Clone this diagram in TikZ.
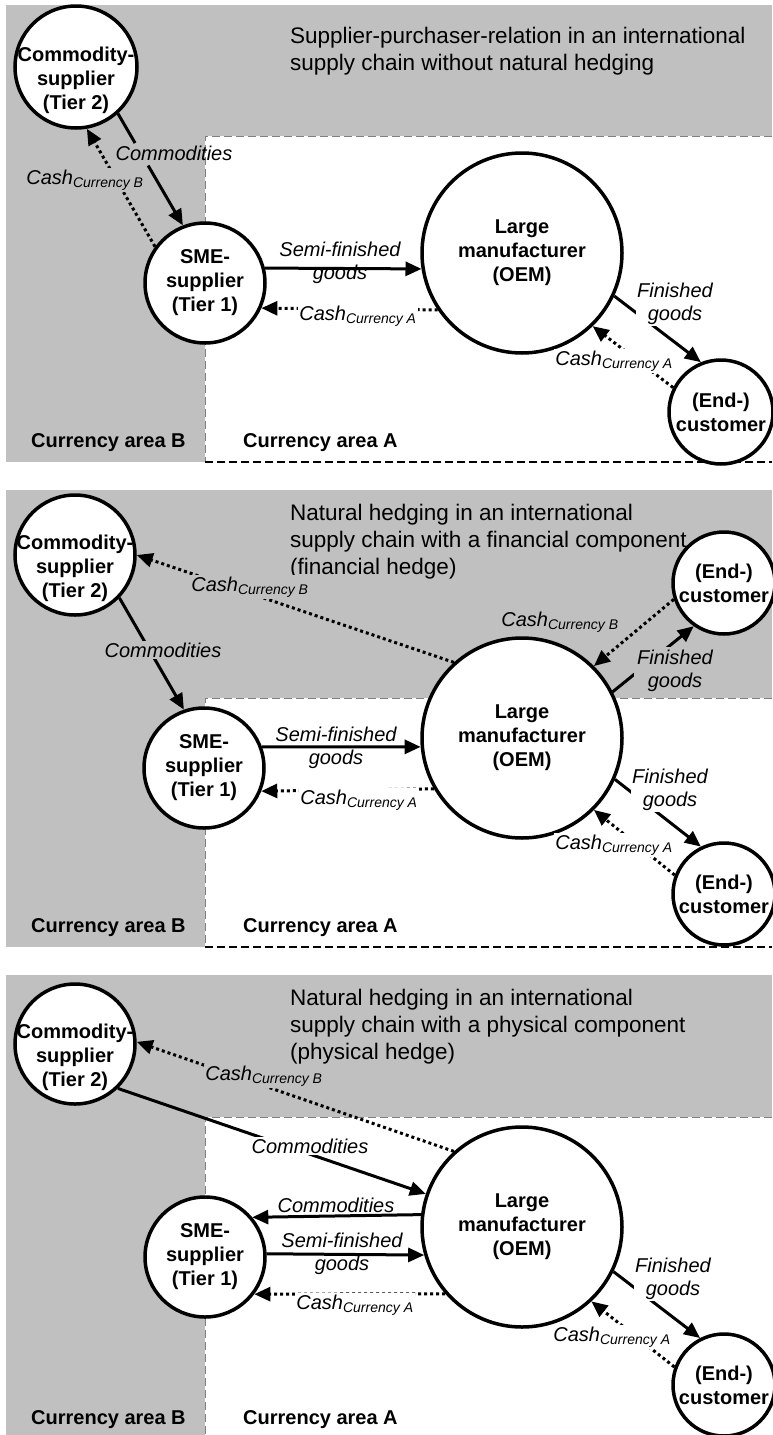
\documentclass[tikz,border=0pt]{standalone}
\usepackage{fontspec}
\setmainfont{Liberation Sans}
\usetikzlibrary{arrows.meta}

\definecolor{areaB}{RGB}{192,192,192}
\definecolor{borderA}{RGB}{128,128,128}

\newcommand{\cashsub}[1]{\textit{Cash\textsubscript{Currency #1}}}

\tikzset{
  firmnode/.style={circle, draw, line width=3.5pt, fill=white, inner sep=0pt, font=\bfseries\fontsize{20}{24}\selectfont, align=center},
  firmname/.style={font=\bfseries\fontsize{20}{24}\selectfont, align=center, inner sep=0pt},
  goodsflow/.style={line width=3pt, -{Triangle[length=16pt,width=14pt]}},
  cashflow/.style={line width=3pt, dash pattern=on 3pt off 3pt, -{Triangle[length=16pt,width=14pt]}},
  flowlabel/.style={font=\itshape\fontsize{20}{23}\selectfont, align=center, inner sep=1.5pt},
  headline/.style={font=\fontsize{22.5}{27}\selectfont, align=left, anchor=north west, inner sep=0pt},
  areatext/.style={font=\bfseries\fontsize{20}{24}\selectfont, anchor=base west, inner sep=0pt},
  areaAborder/.style={borderA, line width=1pt, dash pattern=on 8pt off 4pt},
  areaAbottom/.style={black, line width=1.5pt, dash pattern=on 8pt off 4pt},
}

\begin{document}
\begin{tikzpicture}[x=1pt, y=-1pt]
\useasboundingbox (0,0) rectangle (772,1435);

% panel 1
\fill[areaB] (6,5) rectangle (772,462);
\fill[white] (205,136) rectangle (772,462);
\draw[areaAborder] (772,136) -- (205,136) -- (205,462);
\draw[areaAbottom] (205,462) -- (772,462);
\node[headline] (title1) at (290,27) {Supplier-purchaser-relation in an international\\supply chain without natural hedging};
\node[areatext] (areaB1) at (31,447) {Currency area B};
\node[areatext] (areaA1) at (243,447) {Currency area A};

\node[firmnode, minimum size=122pt, label={[firmname, yshift=-13pt]center:Commodity-\\supplier\\(Tier 2)}] (com1) at (76,67) {};
\node[firmnode, minimum size=120pt] (sme1) at (205,283) {SME-\\supplier\\(Tier 1)};
\node[firmnode, minimum size=200pt] (oem1) at (522,253) {Large\\manufacturer\\(OEM)};
\node[firmnode, minimum size=104pt] (end1) at (721,412) {(End-)\\customer};

\draw[goodsflow, dash pattern=on 34pt off 26pt on 90pt] (com1.-48) -- (sme1.111);
\draw[cashflow] (sme1.144) -- (com1.-80);
\draw[goodsflow] (sme1.14) -- (oem1.-171);
\draw[cashflow] (oem1.-146) -- (sme1.-24);
\draw[goodsflow] (oem1.-25) -- (end1.112);
\draw[cashflow] (end1.153) -- (oem1.-46);

\node[flowlabel] (lcom1) at (174,153) {Commodities};
\node[flowlabel, fill=areaB] (lcashB1) at (85,180) {\cashsub{B}};
\node[flowlabel] (lsemi1) at (340,263) {Semi-finished\\goods};
\node[flowlabel, fill=white] (lcashA1) at (358,316) {\cashsub{A}};
\node[flowlabel, fill=white] (lfin1) at (675,304) {Finished\\goods};
\node[flowlabel, fill=white] (lcashE1) at (614,361) {\cashsub{A}};

% panel 2
\fill[areaB] (6,490) rectangle (772,947);
\fill[white] (205,698) rectangle (772,947);
\draw[areaAborder] (772,698) -- (205,698) -- (205,947);
\draw[areaAbottom] (205,947) -- (772,947);
\node[headline] (title2) at (290,504) {Natural hedging in an international\\supply chain with a financial component\\(financial hedge)};
\node[areatext] (areaB2) at (31,932) {Currency area B};
\node[areatext] (areaA2) at (243,932) {Currency area A};

\node[firmnode, minimum size=120pt, label={[firmname, yshift=-13pt]center:Commodity-\\supplier\\(Tier 2)}] (com2) at (75,555) {};
\node[firmnode, minimum size=120pt] (sme2) at (204,768) {SME-\\supplier\\(Tier 1)};
\node[firmnode, minimum size=200pt] (oem2) at (522,738) {Large\\manufacturer\\(OEM)};
\node[firmnode, minimum size=102pt] (endt2) at (724,583) {(End-)\\customer};
\node[firmnode, minimum size=102pt] (endb2) at (724,894) {(End-)\\customer};

\draw[cashflow] (oem2.132) -- (com2.0);
\draw[goodsflow] (com2.-44) -- (sme2.109);
\draw[goodsflow] (sme2.20) -- (oem2.-175);
\draw[cashflow] (oem2.-150) -- (sme2.-22);
\draw[cashflow] (endt2.-162) -- (oem2.45);
\draw[goodsflow] (oem2.27) -- (endt2.-125);
\draw[goodsflow] (oem2.-24) -- (endb2.116);
\draw[cashflow] (endb2.159) -- (oem2.-45);

\node[flowlabel, fill=areaB] (lcashB2) at (250,587) {\cashsub{B}};
\node[flowlabel, fill=areaB] (lcom2) at (163,650) {Commodities};
\node[flowlabel] (lsemi2) at (336,748) {Semi-finished\\goods};
\node[flowlabel, fill=white] (lcashA2) at (359,800) {\cashsub{A}};
\node[flowlabel] (lcashBt2) at (560,622) {\cashsub{B}};
\node[flowlabel, fill=areaB, inner sep=3pt] (lfint2) at (675,671) {Finished\\goods};
\node[flowlabel, fill=white] (lfinb2) at (670,790) {Finished\\goods};
\node[flowlabel, fill=white] (lcashE2) at (614,845) {\cashsub{A}};

% panel 3
\fill[areaB] (6,975) rectangle (772,1435);
\fill[white] (205,1117) rectangle (772,1435);
\draw[areaAborder] (772,1117) -- (205,1117) -- (205,1435);
\node[headline] (title3) at (290,989) {Natural hedging in an international\\supply chain with a physical component\\(physical hedge)};
\node[areatext] (areaB3) at (31,1424) {Currency area B};
\node[areatext] (areaA3) at (243,1424) {Currency area A};

\node[firmnode, minimum size=120pt, label={[firmname, yshift=-13pt]center:Commodity-\\supplier\\(Tier 2)}] (com3) at (75,1044) {};
\node[firmnode, minimum size=120pt] (sme3) at (205,1257) {SME-\\supplier\\(Tier 1)};
\node[firmnode, minimum size=200pt] (oem3) at (522,1227) {Large\\manufacturer\\(OEM)};
\node[firmnode, minimum size=102pt] (end3) at (724,1385) {(End-)\\customer};

\draw[cashflow] (oem3.132) -- (com3.2);
\draw[goodsflow] (com3.-46) -- (oem3.161);
\draw[goodsflow] (oem3.173) -- (sme3.40);
\draw[goodsflow] (sme3.3) -- (oem3.-164);
\draw[cashflow] (oem3.-139) -- (sme3.-37);
\draw[goodsflow] (oem3.-26) -- (end3.117);
\draw[cashflow] (end3.160) -- (oem3.-47);

\node[flowlabel, fill=areaB] (lcashB3) at (264,1076) {\cashsub{B}};
\node[flowlabel, fill=white] (lcom3) at (310,1146) {Commodities};
\node[flowlabel] (lcomS3) at (336,1205) {Commodities};
\node[flowlabel] (lsemi3) at (342,1254) {Semi-finished\\goods};
\node[flowlabel, fill=white] (lcashA3) at (355,1305) {\cashsub{A}};
\node[flowlabel, fill=white] (lfin3) at (673,1279) {Finished\\goods};
\node[flowlabel, fill=white] (lcashE3) at (612,1337) {\cashsub{A}};
\end{tikzpicture}
\end{document}
